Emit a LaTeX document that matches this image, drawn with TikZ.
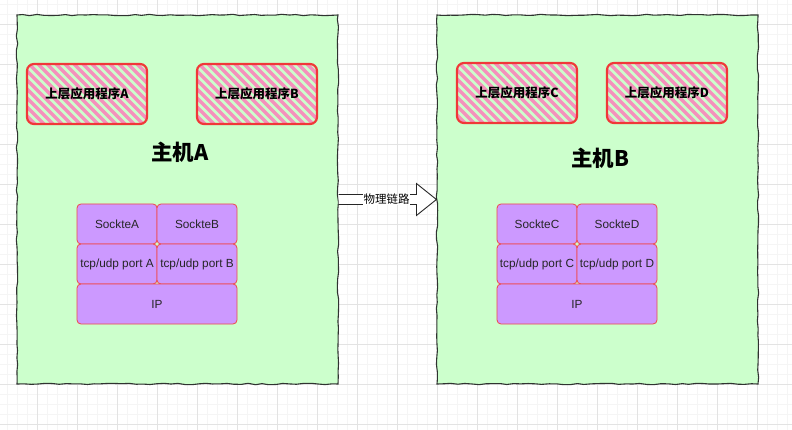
\documentclass[tikz,border=0pt]{standalone}
\usepackage{fontspec}
\setmainfont{Liberation Sans}
\newfontfamily\cjk{Noto Sans CJK SC}
\usetikzlibrary{decorations.pathmorphing,calc}
\definecolor{hostfill}{HTML}{CCFFCC}
\definecolor{hostline}{HTML}{2F3330}
\definecolor{appred}{HTML}{F03838}
\definecolor{hatch}{HTML}{F590BC}
\definecolor{stkfill}{HTML}{CC99FF}
\definecolor{stkline}{HTML}{F04848}
\definecolor{gridmaj}{HTML}{E3E3E3}
\definecolor{gridmin}{HTML}{F5F5F5}
\begin{document}
\begin{tikzpicture}[x=1pt,y=-1pt,
  minorgrid/.style={draw=gridmin,line width=0.5pt},
  majorgrid/.style={draw=gridmaj,line width=0.7pt},
  host/.style={draw=hostline,fill=hostfill,line width=1.1pt,minimum width=321pt,minimum height=369pt,inner sep=0pt,
    decorate,decoration={random steps,segment length=7pt,amplitude=0.7pt}},
  hosttitle/.style={font=\cjk\bfseries\fontsize{21.5}{25}\selectfont,inner sep=0pt},
  appbox/.style={draw=appred,line width=2.2pt,rounded corners=7pt,minimum width=120pt,minimum height=60pt,inner sep=0pt,
    font=\cjk\bfseries\fontsize{12.5}{15}\selectfont,
    path picture={\foreach \i in {-100,-91,...,100}{\draw[hatch,line width=3.2pt] ($(path picture bounding box.center)+(\i-40,-40)$) -- ++(80,80);}}},
  stk/.style={draw=stkline,fill=stkfill,line width=0.8pt,rounded corners=4pt,minimum width=80pt,minimum height=40pt,inner sep=0pt,
    font=\fontsize{11.8}{13}\selectfont,text=black!85},
  ipbox/.style={stk,minimum width=160pt},
  linkarrow/.style={draw=black!85,fill=white,line width=0.9pt,line join=miter},
  linklabel/.style={font=\cjk\fontsize{11.5}{13}\selectfont,fill=white,inner sep=0.5pt}
]
\useasboundingbox (0,0) rectangle (792,430);
\fill[white] (0,0) rectangle (792,430);
\foreach \x in {7,17,...,787} \draw[minorgrid] (\x,0) -- (\x,430);
\foreach \y in {4,14,...,430} \draw[minorgrid] (0,\y) -- (792,\y);
\foreach \x in {37,77,...,787} \draw[majorgrid] (\x,0) -- (\x,430);
\foreach \y in {24,64,...,430} \draw[majorgrid] (0,\y) -- (792,\y);
\pgfmathsetseed{7}
% hosts
\node[host] (hA) at (177.5,199.5) {};
\node[host] (hB) at (597.5,199.5) {};
\node[hosttitle] (tA) at (180,152) {主机A};
\node[hosttitle] (tB) at (600,158) {主机B};
% application boxes
\node[appbox] (appA) at (87,94) {上层应用程序A};
\node[appbox] (appB) at (257,94) {上层应用程序B};
\node[appbox] (appC) at (517,93) {上层应用程序C};
\node[appbox] (appD) at (667,93) {上层应用程序D};
% stacks host A
\node[stk] (sA) at (117,224) {SockteA};
\node[stk] (sB) at (197,224) {SockteB};
\node[stk] (pA) at (117,264) {tcp/udp port A};
\node[stk] (pB) at (197,264) {tcp/udp port B};
\node[ipbox] (ipA) at (157,304) {IP};
% stacks host B
\node[stk] (sC) at (537,224) {SockteC};
\node[stk] (sD) at (617,224) {SockteD};
\node[stk] (pC) at (537,264) {tcp/udp port C};
\node[stk] (pD) at (617,264) {tcp/udp port D};
\node[ipbox] (ipB) at (577,304) {IP};
% link arrow
\draw[linkarrow] ($(hA.east)+(0,-5)$) -- ($(hB.west)+(-20,-5)$) -- ($(hB.west)+(-20,-16)$) -- (hB.west)
  -- ($(hB.west)+(-20,16)$) -- ($(hB.west)+(-20,5)$) -- ($(hA.east)+(0,5)$);
\node[linklabel] (lk) at ($(hA.east)!0.5!(hB.west)+(-1,0)$) {物理链路};
\end{tikzpicture}
\end{document}
